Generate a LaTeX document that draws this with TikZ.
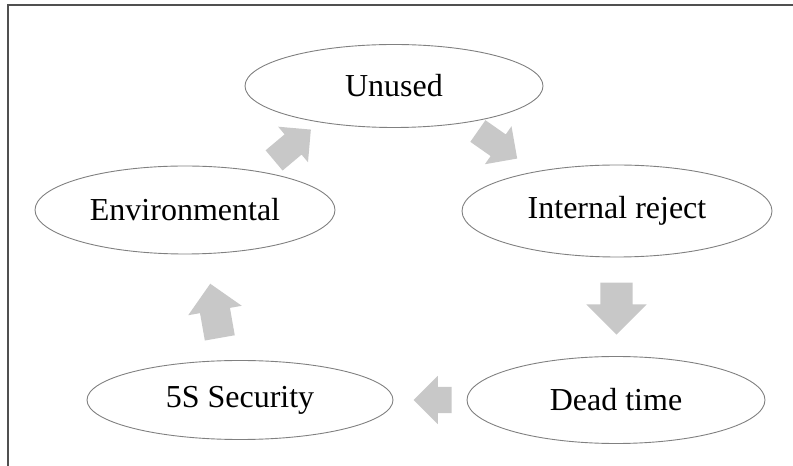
\documentclass[tikz,border=0pt]{standalone}
\usepackage{fontspec}
\setmainfont{Liberation Serif}
\usepackage{tikz}
\usetikzlibrary{shapes.geometric}
\usetikzlibrary{shapes.arrows}
\usetikzlibrary{calc}
\definecolor{rimgray}{RGB}{128,128,128}
\definecolor{framegray}{RGB}{80,80,80}
\definecolor{arrowgray}{RGB}{200,200,200}
\tikzstyle{waste} = [ellipse, draw=rimgray, line width=0.9pt, inner sep=0pt, font=\fontsize{32}{38}\selectfont]
\tikzstyle{blockarrow} = [single arrow, fill=arrowgray, draw=none, inner sep=0pt, single arrow head extend=0pt, single arrow tip angle=90]

\begin{document}
\begin{tikzpicture}[x=1pt, y=1pt]
\useasboundingbox (0, 0) rectangle (793, 466);
% Frame, top and left only
\draw[framegray, line width=1.4pt] (793, 461) -- (8, 461) -- (8, 0);
% Waste ellipses, clockwise from the top
\node[waste, minimum width=298, minimum height=83] (unused) at (394, 380) {Unused};
\node[waste, minimum width=310, minimum height=92] (internal) at (617, 255) {Internal reject};
\node[waste, minimum width=298, minimum height=87] (dead) at (616, 66) {Dead time};
\node[waste, minimum width=306, minimum height=79] (security) at (240, 66) {5S Security};
\node[waste, minimum width=300, minimum height=88] (environmental) at (185, 256) {Environmental};
% Block arrows between the ellipses
\node[blockarrow, rotate=40, minimum height=48, minimum width=46, inner ysep=13, single arrow head extend=10] (a1) at ($(environmental)!0.49!(unused)$) {};
\node[blockarrow, rotate=-35, minimum height=48, minimum width=46, inner ysep=13, single arrow head extend=10] (a2) at ($(unused)!0.44!(internal)$) {};
\node[blockarrow, rotate=-90, minimum height=52, minimum width=60, inner ysep=16, single arrow head extend=14] (a3) at ($(internal)!0.474!(dead)$) {};
\node[blockarrow, rotate=180, minimum height=38, minimum width=48, inner ysep=13, single arrow head extend=11] (a4) at ($(dead)!0.47!(security)$) {};
\node[blockarrow, rotate=100, minimum height=55, minimum width=54, inner ysep=15, single arrow head extend=12] (a5) at ($(security)!0.43!(environmental)$) {};
\end{tikzpicture}
\end{document}
